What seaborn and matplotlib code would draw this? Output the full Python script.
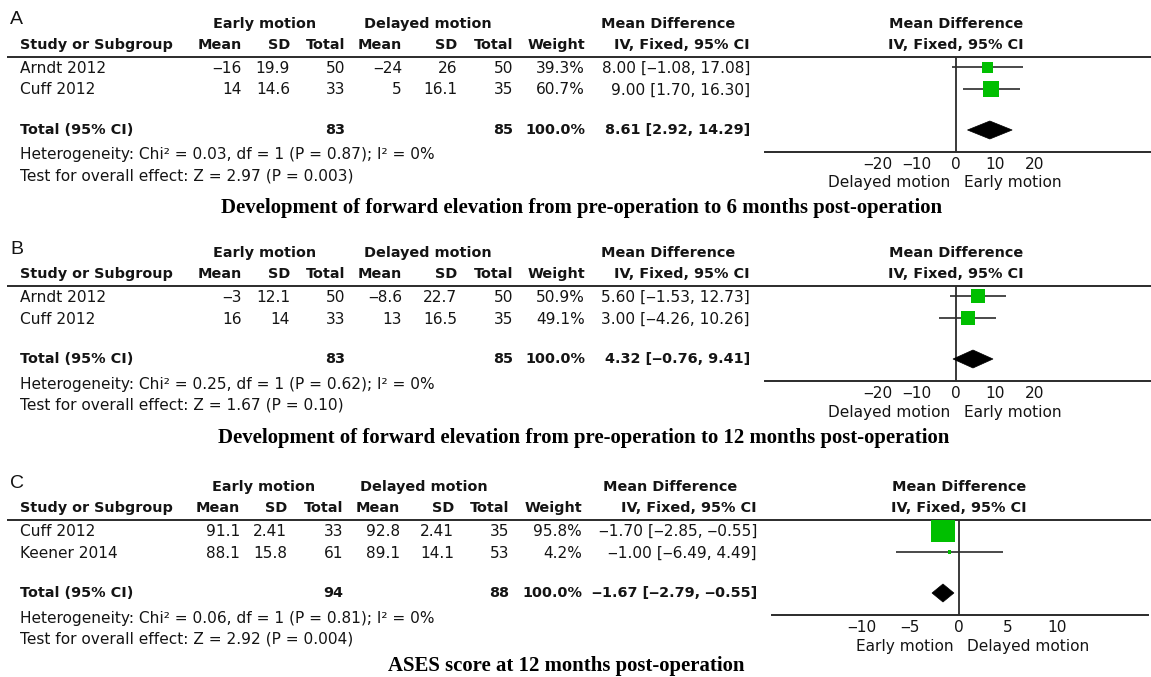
import matplotlib
matplotlib.use("Agg")
import matplotlib.pyplot as plt
import numpy as np
import pandas as pd
import seaborn as sns
from matplotlib.patches import Polygon

# ---------------- data ----------------
# A: forward elevation, pre-op to 6 months
a_study = ["Arndt 2012", "Cuff 2012"]
a_early_mean = [-16, 14]
a_early_sd = [19.9, 14.6]
a_early_n = [50, 33]
a_delayed_mean = [-24, 5]
a_delayed_sd = [26, 16.1]
a_delayed_n = [50, 35]
a_weight = [39.3, 60.7]
a_md = [8.00, 9.00]
a_lo = [-1.08, 1.70]
a_hi = [17.08, 16.30]
a_total_n = [83, 85]
a_total_ci = [8.61, 2.92, 14.29]
a_stats = [0.03, 1, 0.87, 0, 2.97, 0.003]   # Chi2, df, P, I2, Z, P

# B: forward elevation, pre-op to 12 months
b_study = ["Arndt 2012", "Cuff 2012"]
b_early_mean = [-3, 16]
b_early_sd = [12.1, 14]
b_early_n = [50, 33]
b_delayed_mean = [-8.6, 13]
b_delayed_sd = [22.7, 16.5]
b_delayed_n = [50, 35]
b_weight = [50.9, 49.1]
b_md = [5.60, 3.00]
b_lo = [-1.53, -4.26]
b_hi = [12.73, 10.26]
b_total_n = [83, 85]
b_total_ci = [4.32, -0.76, 9.41]
b_stats = [0.25, 1, 0.62, 0, 1.67, 0.10]

# C: ASES score at 12 months
c_study = ["Cuff 2012", "Keener 2014"]
c_early_mean = [91.1, 88.1]
c_early_sd = [2.41, 15.8]
c_early_n = [33, 61]
c_delayed_mean = [92.8, 89.1]
c_delayed_sd = [2.41, 14.1]
c_delayed_n = [35, 53]
c_weight = [95.8, 4.2]
c_md = [-1.70, -1.00]
c_lo = [-2.85, -6.49]
c_hi = [-0.55, 4.49]
c_total_n = [94, 88]
c_total_ci = [-1.67, -2.79, -0.55]
c_stats = [0.06, 1, 0.81, 0, 2.92, 0.004]

ab_ticks = [-20, -10, 0, 10, 20]
c_ticks = [-10, -5, 0, 5, 10]
ab_sides = ["Delayed motion", "Early motion"]
c_sides = ["Early motion", "Delayed motion"]
titles = [
    "Development of forward elevation from pre-operation to 6 months post-operation",
    "Development of forward elevation from pre-operation to 12 months post-operation",
    "ASES score at 12 months post-operation",
]
letters = ["A", "B", "C"]

# ---------------- style ----------------
W, H, DPI = 1151, 677, 100
sns.set_theme(style="white")
plt.rcParams["font.family"] = ["DejaVu Sans"]

INK = "#141414"
LINE = "#2b2b2b"
GREEN = "#00bf00"
FS = 11.1      # table text
FSB = 10.4     # bold table text
DASH = "\u2012"  # figure dash: negative sign as wide as a digit

fig = plt.figure(figsize=(W / DPI, H / DPI), dpi=DPI)
fig.patch.set_facecolor("white")
page = fig.add_axes([0, 0, 1, 1])
page.set_xlim(0, W)
page.set_ylim(H, 0)
page.axis("off")


def num(v):
    return f"{v:g}".replace("-", DASH)


def ci_text(md, lo, hi):
    return f"{md:.2f} [{lo:.2f}, {hi:.2f}]".replace("-", DASH)


def pval(p):
    return f"{p:.3f}" if p < 0.01 else f"{p:.2f}"


def txt(x, y, s, ha="right", bold=False, **kw):
    page.text(x, y, s, ha=ha, va="center", color=INK,
              fontsize=FSB if bold else FS,
              fontweight="bold" if bold else "normal", **kw)


def draw_panel(df, total_n, total_ci, stats, letter, title, ticks, sides,
               dy, cols, fwin, title_x, title_y):
    Y = lambda y: y + dy
    # panel letter
    page.text(10, Y(20), letter, ha="left", va="center", fontsize=14,
              family="Liberation Sans", color=INK)
    # group headers
    txt(cols["early_c"], Y(24), "Early motion", ha="center", bold=True)
    txt(cols["delayed_c"], Y(24), "Delayed motion", ha="center", bold=True)
    txt(cols["md_c"], Y(24), "Mean Difference", ha="center", bold=True)
    # column headers
    txt(20, Y(45), "Study or Subgroup", ha="left", bold=True)
    for key, lab in [("em", "Mean"), ("es", "SD"), ("en", "Total"),
                     ("dm", "Mean"), ("ds", "SD"), ("dn", "Total"),
                     ("w", "Weight"), ("ci", "IV, Fixed, 95% CI")]:
        txt(cols[key], Y(45), lab, bold=True)
    page.plot([7, W], [Y(56.5), Y(56.5)], color=LINE, lw=1.4,
              solid_capstyle="butt")

    # study rows
    for i, r in df.iterrows():
        y = Y(r["text_y"])
        txt(20, y, r["study"], ha="left")
        txt(cols["em"], y, num(r["early_mean"]))
        txt(cols["es"], y, num(r["early_sd"]))
        txt(cols["en"], y, num(r["early_n"]))
        txt(cols["dm"], y, num(r["delayed_mean"]))
        txt(cols["ds"], y, num(r["delayed_sd"]))
        txt(cols["dn"], y, num(r["delayed_n"]))
        txt(cols["w"], y, f"{r['weight']:.1f}%")
        txt(cols["ci"], y, ci_text(r["md"], r["lo"], r["hi"]))

    # total row
    txt(20, Y(130), "Total (95% CI)", ha="left", bold=True)
    txt(cols["en"], Y(130), num(total_n[0]), bold=True)
    txt(cols["dn"], Y(130), num(total_n[1]), bold=True)
    txt(cols["w"], Y(130), f"{df['weight'].sum():.1f}%", bold=True)
    txt(cols["ci"], Y(130), ci_text(*total_ci), bold=True)
    chi2, dof, p_het, i2, z, p_z = stats
    txt(20, Y(155), f"Heterogeneity: Chi\u00b2 = {chi2:.2f}, df = {dof} "
        f"(P = {pval(p_het)}); I\u00b2 = {i2}%", ha="left")
    txt(20, Y(176), f"Test for overall effect: Z = {z:.2f} (P = {pval(p_z)})",
        ha="left")

    # forest plot header
    txt(fwin["zero"], Y(24), "Mean Difference", ha="center", bold=True)
    txt(fwin["zero"], Y(45), "IV, Fixed, 95% CI", ha="center", bold=True)

    # forest plot axes: x in data units, y in page pixels
    top, bottom = Y(56.5), Y(151.7)
    left, right = fwin["left"], fwin["right"]
    ax = fig.add_axes([left / W, 1 - bottom / H, (right - left) / W,
                       (bottom - top) / H])
    ax.set_facecolor("none")
    ax.set_xlim((left - fwin["zero"]) / fwin["scale"],
                (right - fwin["zero"]) / fwin["scale"])
    ax.set_ylim(bottom, top)

    # square side grows with study weight
    rows = df.assign(row=df["text_y"] - 1 + dy,
                     s=((2.5 + 0.225 * df["weight"]) * 72 / DPI) ** 2)
    ax.hlines(rows["row"], rows["lo"], rows["hi"], color=LINE, lw=1.2,
              zorder=2)
    sns.scatterplot(data=rows, x="md", y="row", marker="s", s=rows["s"],
                    color=GREEN, linewidth=0, legend=False, zorder=3, ax=ax)
    md, lo, hi = total_ci
    yc, hh = Y(130), 9
    ax.add_patch(Polygon([(lo, yc), (md, yc - hh), (hi, yc), (md, yc + hh)],
                         closed=True, facecolor="black", edgecolor="black",
                         lw=0.5, zorder=3))
    ax.axvline(0, color=LINE, lw=1.3, zorder=1)

    for sp in ["top", "left", "right"]:
        ax.spines[sp].set_visible(False)
    ax.spines["bottom"].set_color(LINE)
    ax.spines["bottom"].set_linewidth(1.4)
    ax.set_yticks([])
    ax.set_xticks(ticks)
    ax.set_xticklabels([num(t) for t in ticks])
    ax.tick_params(axis="x", direction="inout", length=6, width=1.2,
                   color=LINE, labelsize=FS, labelcolor=INK, pad=0.5)
    ax.set_xlabel("")
    ax.set_ylabel("")

    # side labels under the axis
    page.text(fwin["zero"] - 6, Y(183), sides[0], ha="right", va="center",
              fontsize=FS, color=INK)
    page.text(fwin["zero"] + 8, Y(183), sides[1], ha="left", va="center",
              fontsize=FS, color=INK)

    # panel caption
    page.text(title_x, title_y, title, ha="center", va="center",
              family="Liberation Serif", fontweight="bold", fontsize=14.95,
              color="black")


def frame(study, em, es, en, dm, ds, dn, w, md, lo, hi):
    return pd.DataFrame({
        "study": study, "early_mean": em, "early_sd": es, "early_n": en,
        "delayed_mean": dm, "delayed_sd": ds, "delayed_n": dn,
        "weight": w, "md": md, "lo": lo, "hi": hi,
        "text_y": [68.3, 90.0],
    })


cols_ab = dict(early_c=265, delayed_c=428, md_c=668, em=242, es=290, en=345,
               dm=402, ds=457, dn=513, w=585, ci=750)
cols_c = dict(early_c=264, delayed_c=424, md_c=670, em=240, es=287, en=343,
              dm=400, ds=454, dn=509, w=582, ci=757)
win_ab = dict(left=764.7, right=1151, zero=956, scale=3.93)
win_c = dict(left=771.7, right=1147.7, zero=959.3, scale=9.78)

draw_panel(frame(a_study, a_early_mean, a_early_sd, a_early_n, a_delayed_mean,
                 a_delayed_sd, a_delayed_n, a_weight, a_md, a_lo, a_hi),
           a_total_n, a_total_ci, a_stats, letters[0], titles[0], ab_ticks,
           ab_sides, 0, cols_ab, win_ab, 582, 208)
draw_panel(frame(b_study, b_early_mean, b_early_sd, b_early_n, b_delayed_mean,
                 b_delayed_sd, b_delayed_n, b_weight, b_md, b_lo, b_hi),
           b_total_n, b_total_ci, b_stats, letters[1], titles[1], ab_ticks,
           ab_sides, 229, cols_ab, win_ab, 584, 438)
draw_panel(frame(c_study, c_early_mean, c_early_sd, c_early_n, c_delayed_mean,
                 c_delayed_sd, c_delayed_n, c_weight, c_md, c_lo, c_hi),
           c_total_n, c_total_ci, c_stats, letters[2], titles[2], c_ticks,
           c_sides, 463, cols_c, win_c, 566, 666)

fig.savefig("out.png", dpi=DPI, facecolor="white")
